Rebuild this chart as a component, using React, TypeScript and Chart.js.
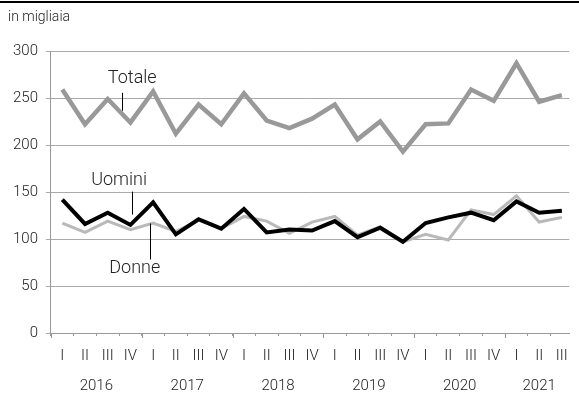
import React, { useEffect, useRef } from 'react';
import { Chart, registerables } from 'chart.js';

Chart.register(...registerables);

const quarters = ['I', 'II', 'III', 'IV', 'I', 'II', 'III', 'IV', 'I', 'II', 'III', 'IV', 'I', 'II', 'III', 'IV', 'I', 'II', 'III', 'IV', 'I', 'II', 'III'];
const years = ['2016', '2017', '2018', '2019', '2020', '2021'];
const yearCenters = [1.5, 5.5, 9.5, 13.5, 17.5, 21];
const yearBoundaries = [-0.5, 3.5, 7.5, 11.5, 15.5, 19.5];

const totale = [259, 222, 249, 224, 257, 212, 243, 222, 255, 226, 218, 228, 243, 206, 225, 193, 222, 223, 259, 247, 287, 246, 253];
const uomini = [142, 116, 128, 115, 139, 105, 121, 111, 132, 107, 110, 109, 119, 102, 112, 97, 117, 123, 128, 120, 140, 128, 130];
const donne = [117, 107, 119, 110, 117, 108, 120, 111, 124, 119, 106, 118, 124, 104, 113, 97, 105, 99, 131, 126, 146, 118, 123];

const yTicks = [0, 50, 100, 150, 200, 250, 300];

const annotations = [
  { text: 'Totale', tx: 3.08, ty: 270.4, lx: 2.65, ly1: 255.5, ly2: 236.4 },
  { text: 'Uomini', tx: 2.5, ty: 162, lx: 3.08, ly1: 150.4, ly2: 126 },
  { text: 'Donne', tx: 3.19, ty: 68.7, lx: 3.86, ly1: 116.5, ly2: 78.2 },
];

const FONT = 'Roboto';
const TEXT = '#222';
const XMIN = -0.5;
const XMAX = 22.33;

const overlayPlugin = {
  id: 'overlay',
  afterDraw(chart: any) {
    const { ctx } = chart;
    const x = chart.scales.x;
    const y = chart.scales.y;
    ctx.save();
    ctx.fillStyle = '#000';
    ctx.fillRect(0, 1, chart.width, 2);
    ctx.fillStyle = TEXT;
    ctx.font = `300 14px ${FONT}`;
    ctx.textAlign = 'left';
    ctx.textBaseline = 'alphabetic';
    ctx.fillText('in migliaia', 8, 21);
    ctx.strokeStyle = '#999';
    ctx.lineWidth = 1;
    yearBoundaries.forEach((v) => {
      const px = Math.round(x.getPixelForValue(v)) + 0.5;
      ctx.beginPath();
      ctx.moveTo(px, x.top);
      ctx.lineTo(px, x.top + 5);
      ctx.stroke();
    });
    ctx.font = `300 18px ${FONT}`;
    ctx.textAlign = 'center';
    ctx.textBaseline = 'middle';
    ctx.strokeStyle = '#000';
    ctx.lineWidth = 1;
    annotations.forEach((a) => {
      ctx.fillStyle = TEXT;
      ctx.fillText(a.text, x.getPixelForValue(a.tx), y.getPixelForValue(a.ty));
      const lx = Math.round(x.getPixelForValue(a.lx)) + 0.5;
      ctx.beginPath();
      ctx.moveTo(lx, y.getPixelForValue(a.ly1));
      ctx.lineTo(lx, y.getPixelForValue(a.ly2));
      ctx.stroke();
    });
    ctx.restore();
  },
};

export default function App() {
  const ref = useRef<HTMLCanvasElement | null>(null);

  useEffect(() => {
    document.body.style.margin = '0';
    const canvas = ref.current;
    if (!canvas) return;
    const toPts = (arr: number[]) => arr.map((v, i) => ({ x: i, y: v }));
    const tickFont = { family: FONT, size: 15, weight: '300' as any };
    const chart = new Chart(canvas, {
      type: 'line',
      data: {
        datasets: [
          { label: 'Uomini', data: toPts(uomini), borderColor: '#000', borderWidth: 4, pointRadius: 0, tension: 0, borderJoinStyle: 'miter' },
          { label: 'Donne', data: toPts(donne), borderColor: '#b9b9b9', borderWidth: 3, pointRadius: 0, tension: 0, borderJoinStyle: 'miter' },
          { label: 'Totale', data: toPts(totale), borderColor: '#999', borderWidth: 4.5, pointRadius: 0, tension: 0, borderJoinStyle: 'miter' },
        ],
      },
      options: {
        responsive: false,
        animation: false,
        events: [],
        layout: { padding: { top: 51, left: 5, right: 0, bottom: 9 } },
        plugins: { legend: { display: false }, tooltip: { enabled: false }, title: { display: false } },
        scales: {
          x: {
            type: 'linear',
            position: 'bottom',
            min: XMIN,
            max: XMAX,
            bounds: 'data',
            afterBuildTicks: (s: any) => {
              s.ticks = quarters.map((_, i) => ({ value: i - 0.5 }));
            },
            ticks: { display: false },
            grid: { drawOnChartArea: false, drawTicks: true, tickLength: 3, color: '#999', lineWidth: 1 },
            border: { color: '#999', width: 1 },
          },
          xq: {
            type: 'linear',
            position: 'bottom',
            min: XMIN,
            max: XMAX,
            bounds: 'data',
            afterBuildTicks: (s: any) => {
              s.ticks = quarters.map((_, i) => ({ value: i }));
            },
            ticks: {
              autoSkip: false,
              maxRotation: 0,
              padding: 11,
              color: TEXT,
              font: tickFont,
              callback: (_v: any, i: number) => quarters[i],
            },
            grid: { display: false, drawTicks: false },
            border: { display: false },
          },
          xy: {
            type: 'linear',
            position: 'bottom',
            min: XMIN,
            max: XMAX,
            bounds: 'data',
            afterBuildTicks: (s: any) => {
              s.ticks = yearCenters.map((v) => ({ value: v }));
            },
            ticks: {
              autoSkip: false,
              maxRotation: 0,
              padding: 1,
              color: TEXT,
              font: tickFont,
              callback: (_v: any, i: number) => years[i],
            },
            grid: { display: false, drawTicks: false },
            border: { display: false },
          },
          y: {
            type: 'linear',
            position: 'left',
            min: 0,
            max: 300,
            afterBuildTicks: (s: any) => {
              s.ticks = yTicks.map((v) => ({ value: v }));
            },
            ticks: { padding: 8, color: TEXT, font: tickFont },
            grid: { color: '#aaa', lineWidth: 1, tickLength: 5, drawTicks: true },
            border: { color: '#999', width: 1 },
          },
        },
      },
      plugins: [overlayPlugin],
    });
    return () => chart.destroy();
  }, []);

  return (
    <div style={{ width: 579, height: 405 }}>
      <canvas ref={ref} width={579} height={405} style={{ display: 'block', width: 579, height: 405 }} />
    </div>
  );
}
